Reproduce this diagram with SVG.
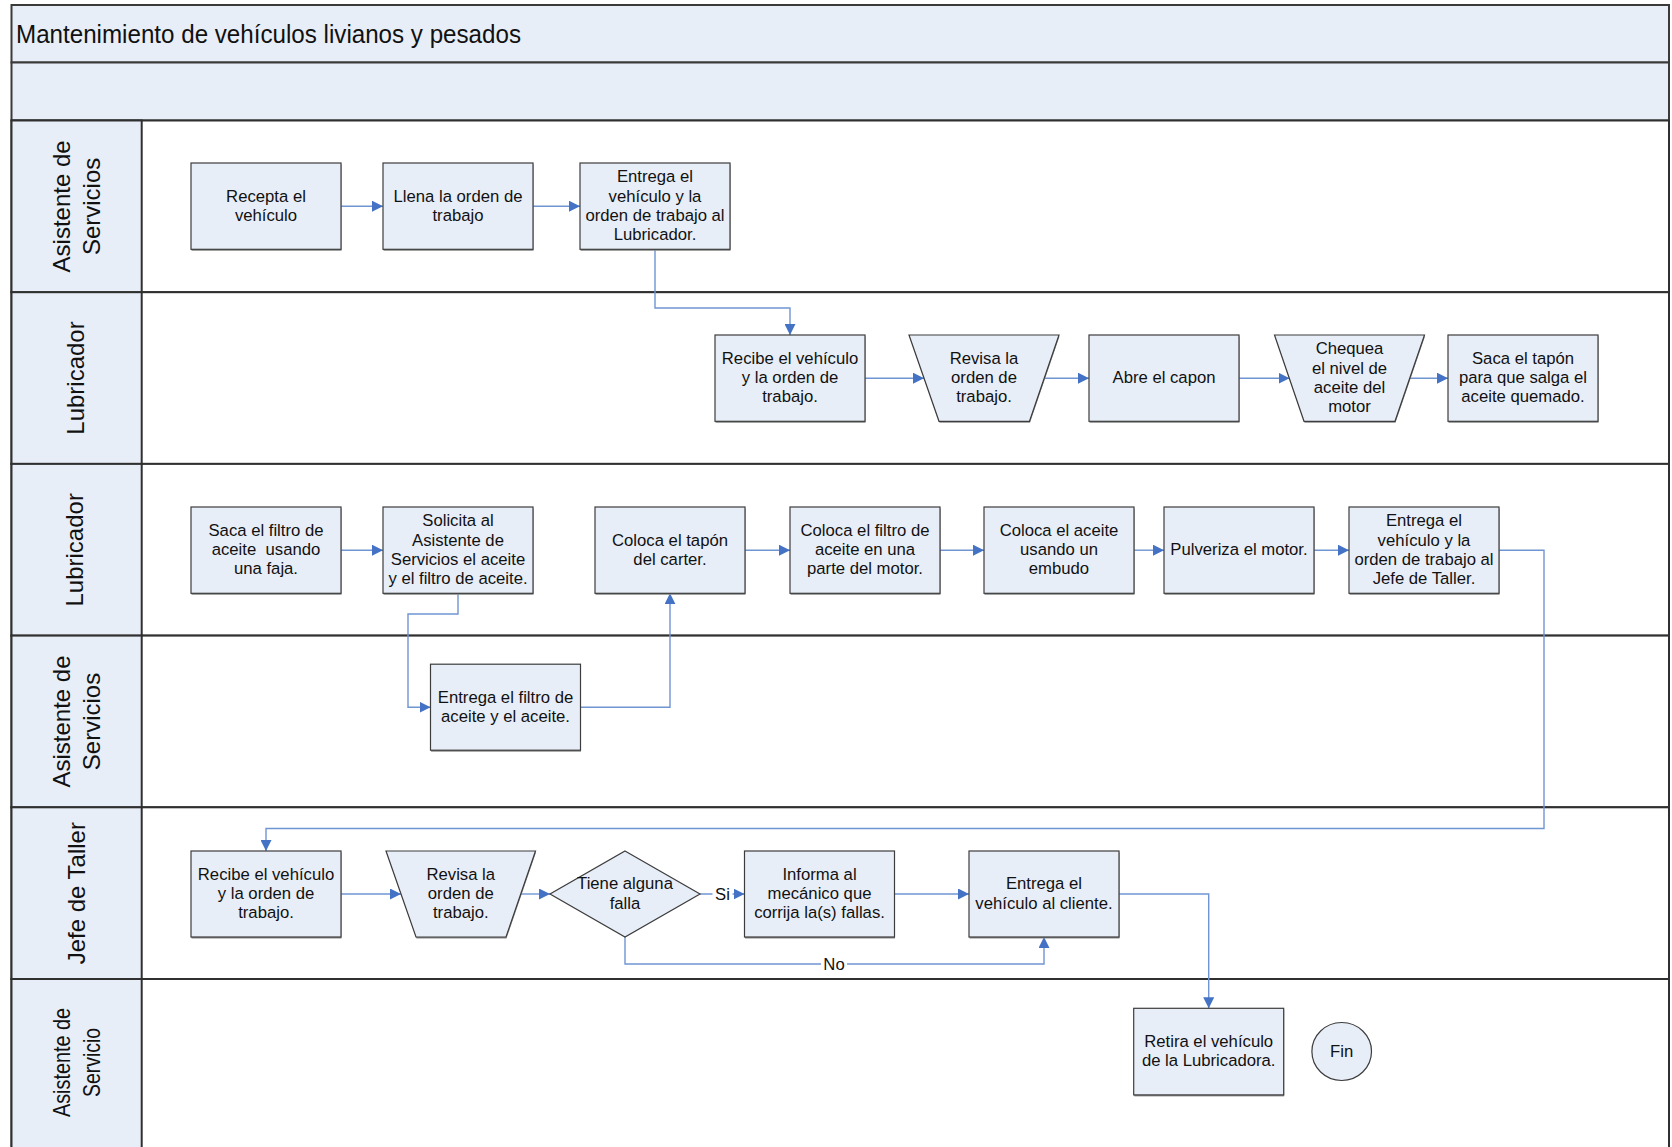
<svg xmlns="http://www.w3.org/2000/svg" width="1672" height="1147" viewBox="0 0 1672 1147">
  <defs>
    <style>
      .band { fill: #e8eef7; stroke: #3a3a3a; stroke-width: 2; }
      .lane { fill: #ffffff; stroke: #303030; stroke-width: 2; }
      .hdr { fill: #e8eef7; stroke: #303030; stroke-width: 2; }
      .shape { fill: #e8eef8; stroke: #3c3c3c; stroke-width: 1.2; }
      .shadow { fill: #8a8a8a; }
      .title { font-family: "Liberation Sans", Arial, sans-serif; font-size: 26.5px; fill: #111111; }
      .lanelbl { font-family: "Liberation Sans", Arial, sans-serif; font-size: 24px; fill: #111111; text-anchor: middle; }
      .t { font-family: "Liberation Sans", Arial, sans-serif; font-size: 16.7px; fill: #111111; text-anchor: middle; white-space: pre; }
      .conn { fill: none; stroke: #6f95d2; stroke-width: 1.4; }
      .lblbg { fill: #ffffff; }
    </style>
    <marker id="arrow" markerUnits="userSpaceOnUse" markerWidth="11" markerHeight="11" refX="11" refY="5.5" orient="auto">
      <path d="M0,0 L11,5.5 L0,11 Z" fill="#4472c4"/>
    </marker>
  </defs>

  <!-- pool frame -->
  <g id="pool">
    <rect class="band" x="11.5" y="5" width="1657.5" height="57.5"/>
    <rect class="band" x="11.5" y="62.5" width="1657.5" height="58"/>
    <text class="title" x="16" y="43" textLength="505" lengthAdjust="spacingAndGlyphs">Mantenimiento de vehículos livianos y pesados</text>
  </g>

  <!-- swimlanes -->
  <g id="lanes">
    <rect class="lane" x="11.5" y="120.5" width="1657.5" height="171.7"/>
    <rect class="lane" x="11.5" y="292.2" width="1657.5" height="171.7"/>
    <rect class="lane" x="11.5" y="463.9" width="1657.5" height="171.7"/>
    <rect class="lane" x="11.5" y="635.6" width="1657.5" height="171.7"/>
    <rect class="lane" x="11.5" y="807.3" width="1657.5" height="171.7"/>
    <rect class="lane" x="11.5" y="979" width="1657.5" height="175"/>
    <rect class="hdr" x="11.5" y="120.5" width="130.2" height="171.7"/>
    <rect class="hdr" x="11.5" y="292.2" width="130.2" height="171.7"/>
    <rect class="hdr" x="11.5" y="463.9" width="130.2" height="171.7"/>
    <rect class="hdr" x="11.5" y="635.6" width="130.2" height="171.7"/>
    <rect class="hdr" x="11.5" y="807.3" width="130.2" height="171.7"/>
    <rect class="hdr" x="11.5" y="979" width="130.2" height="175"/>
    <g transform="rotate(-90 76 206.4)">
      <text class="lanelbl" x="76" y="200.4">Asistente de</text>
      <text class="lanelbl" x="76" y="230.8">Servicios</text>
    </g>
    <g transform="rotate(-90 76 378)">
      <text class="lanelbl" x="76" y="385.5">Lubricador</text>
    </g>
    <g transform="rotate(-90 76 549.8)">
      <text class="lanelbl" x="76" y="557.3">Lubricador</text>
    </g>
    <g transform="rotate(-90 76 721.5)">
      <text class="lanelbl" x="76" y="715.5">Asistente de</text>
      <text class="lanelbl" x="76" y="745.9">Servicios</text>
    </g>
    <g transform="rotate(-90 76 893.2)">
      <text class="lanelbl" x="76" y="902.2">Jefe de Taller</text>
    </g>
    <g transform="rotate(-90 76 1062.5)">
      <text class="lanelbl" x="76" y="1056.5" textLength="109" lengthAdjust="spacingAndGlyphs">Asistente de</text>
      <text class="lanelbl" x="76" y="1086.9" textLength="69" lengthAdjust="spacingAndGlyphs">Servicio</text>
    </g>
  </g>

  <!-- connectors -->
  <g id="connectors">
    <path class="conn" marker-end="url(#arrow)" d="M341,206.2 H383"/>
    <path class="conn" marker-end="url(#arrow)" d="M533,206.2 H580"/>
    <path class="conn" marker-end="url(#arrow)" d="M655,249.5 V308 H790 V335"/>
    <path class="conn" marker-end="url(#arrow)" d="M865,378.2 H924"/>
    <path class="conn" marker-end="url(#arrow)" d="M1044,378.2 H1089"/>
    <path class="conn" marker-end="url(#arrow)" d="M1239,378.2 H1289.5"/>
    <path class="conn" marker-end="url(#arrow)" d="M1410,378.2 H1448"/>
    <path class="conn" marker-end="url(#arrow)" d="M341,550.2 H383"/>
    <path class="conn" marker-end="url(#arrow)" d="M458,593.3 V614 H408 V707.2 H430.5"/>
    <path class="conn" marker-end="url(#arrow)" d="M580.5,707.2 H670 V593.3"/>
    <path class="conn" marker-end="url(#arrow)" d="M745,550.2 H790"/>
    <path class="conn" marker-end="url(#arrow)" d="M940,550.2 H984"/>
    <path class="conn" marker-end="url(#arrow)" d="M1134,550.2 H1164"/>
    <path class="conn" marker-end="url(#arrow)" d="M1314,550.2 H1349"/>
    <path class="conn" marker-end="url(#arrow)" d="M1499,550.2 H1544 V828.5 H266 V851"/>
    <path class="conn" marker-end="url(#arrow)" d="M341,894 H401"/>
    <path class="conn" marker-end="url(#arrow)" d="M520.5,894 H550"/>
    <path class="conn" marker-end="url(#arrow)" d="M700,894 H744.5"/>
    <rect class="lblbg" x="712.5" y="884" width="20" height="20"/>
    <text class="t" x="722.5" y="900">Si</text>
    <path class="conn" marker-end="url(#arrow)" d="M894.5,894 H969"/>
    <path class="conn" marker-end="url(#arrow)" d="M625,937 V964 H1044 V937"/>
    <rect class="lblbg" x="821" y="954" width="26" height="20"/>
    <text class="t" x="834" y="970">No</text>
    <path class="conn" marker-end="url(#arrow)" d="M1119,894 H1208.7 V1008.3"/>
  </g>

  <!-- nodes: lane Asistente de Servicios -->
  <g id="n-recepta">
    <rect class="shadow" x="191.5" y="164.5" width="150" height="86.3"/>
    <rect class="shape" x="191" y="163" width="150" height="86.3"/>
    <text class="t" x="266" y="201.6">Recepta el</text>
    <text class="t" x="266" y="220.8">vehículo</text>
  </g>
  <g id="n-llena">
    <rect class="shadow" x="383.5" y="164.5" width="150" height="86.3"/>
    <rect class="shape" x="383" y="163" width="150" height="86.3"/>
    <text class="t" x="458" y="201.6">Llena la orden de</text>
    <text class="t" x="458" y="220.8">trabajo</text>
  </g>
  <g id="n-entrega-lubricador">
    <rect class="shadow" x="580.5" y="164.5" width="150" height="86.3"/>
    <rect class="shape" x="580" y="163" width="150" height="86.3"/>
    <text class="t" x="655" y="182.4">Entrega el</text>
    <text class="t" x="655" y="201.6">vehículo y la</text>
    <text class="t" x="655" y="220.8">orden de trabajo al</text>
    <text class="t" x="655" y="240">Lubricador.</text>
  </g>

  <!-- nodes: lane Lubricador (1) -->
  <g id="n-recibe-lub">
    <rect class="shadow" x="715.5" y="336.5" width="150" height="86.3"/>
    <rect class="shape" x="715" y="335" width="150" height="86.3"/>
    <text class="t" x="790" y="364">Recibe el vehículo</text>
    <text class="t" x="790" y="383.2">y la orden de</text>
    <text class="t" x="790" y="402.4">trabajo.</text>
  </g>
  <g id="n-revisa-lub">
    <polygon class="shadow" points="909.5,336.5 1059.5,336.5 1030,422.8 939.5,422.8"/>
    <polygon class="shape" points="909,335 1059,335 1029.5,421.3 939,421.3"/>
    <text class="t" x="984" y="364">Revisa la</text>
    <text class="t" x="984" y="383.2">orden de</text>
    <text class="t" x="984" y="402.4">trabajo.</text>
  </g>
  <g id="n-abre">
    <rect class="shadow" x="1089.5" y="336.5" width="150" height="86.3"/>
    <rect class="shape" x="1089" y="335" width="150" height="86.3"/>
    <text class="t" x="1164" y="383.2">Abre el capon</text>
  </g>
  <g id="n-chequea">
    <polygon class="shadow" points="1275,336.5 1425,336.5 1395.5,422.8 1304.5,422.8"/>
    <polygon class="shape" points="1274.5,335 1424.5,335 1395,421.3 1304,421.3"/>
    <text class="t" x="1349.5" y="354.4">Chequea</text>
    <text class="t" x="1349.5" y="373.6">el nivel de</text>
    <text class="t" x="1349.5" y="392.8">aceite del</text>
    <text class="t" x="1349.5" y="412">motor</text>
  </g>
  <g id="n-saca-tapon">
    <rect class="shadow" x="1448.5" y="336.5" width="150" height="86.3"/>
    <rect class="shape" x="1448" y="335" width="150" height="86.3"/>
    <text class="t" x="1523" y="364">Saca el tapón</text>
    <text class="t" x="1523" y="383.2">para que salga el</text>
    <text class="t" x="1523" y="402.4">aceite quemado.</text>
  </g>

  <!-- nodes: lane Lubricador (2) -->
  <g id="n-saca-filtro">
    <rect class="shadow" x="191.5" y="508.5" width="150" height="86.3"/>
    <rect class="shape" x="191" y="507" width="150" height="86.3"/>
    <text class="t" x="266" y="536">Saca el filtro de</text>
    <text class="t" x="266" y="555.2">aceite  usando</text>
    <text class="t" x="266" y="574.4">una faja.</text>
  </g>
  <g id="n-solicita">
    <rect class="shadow" x="383.5" y="508.5" width="150" height="86.3"/>
    <rect class="shape" x="383" y="507" width="150" height="86.3"/>
    <text class="t" x="458" y="526.4">Solicita al</text>
    <text class="t" x="458" y="545.6">Asistente de</text>
    <text class="t" x="458" y="564.8">Servicios el aceite</text>
    <text class="t" x="458" y="584">y el filtro de aceite.</text>
  </g>
  <g id="n-coloca-tapon">
    <rect class="shadow" x="595.5" y="508.5" width="150" height="86.3"/>
    <rect class="shape" x="595" y="507" width="150" height="86.3"/>
    <text class="t" x="670" y="545.6">Coloca el tapón</text>
    <text class="t" x="670" y="564.8">del carter.</text>
  </g>
  <g id="n-coloca-filtro">
    <rect class="shadow" x="790.5" y="508.5" width="150" height="86.3"/>
    <rect class="shape" x="790" y="507" width="150" height="86.3"/>
    <text class="t" x="865" y="536">Coloca el filtro de</text>
    <text class="t" x="865" y="555.2">aceite en una</text>
    <text class="t" x="865" y="574.4">parte del motor.</text>
  </g>
  <g id="n-coloca-aceite">
    <rect class="shadow" x="984.5" y="508.5" width="150" height="86.3"/>
    <rect class="shape" x="984" y="507" width="150" height="86.3"/>
    <text class="t" x="1059" y="536">Coloca el aceite</text>
    <text class="t" x="1059" y="555.2">usando un</text>
    <text class="t" x="1059" y="574.4">embudo</text>
  </g>
  <g id="n-pulveriza">
    <rect class="shadow" x="1164.5" y="508.5" width="150" height="86.3"/>
    <rect class="shape" x="1164" y="507" width="150" height="86.3"/>
    <text class="t" x="1239" y="555.2">Pulveriza el motor.</text>
  </g>
  <g id="n-entrega-jefe">
    <rect class="shadow" x="1349.5" y="508.5" width="150" height="86.3"/>
    <rect class="shape" x="1349" y="507" width="150" height="86.3"/>
    <text class="t" x="1424" y="526.4">Entrega el</text>
    <text class="t" x="1424" y="545.6">vehículo y la</text>
    <text class="t" x="1424" y="564.8">orden de trabajo al</text>
    <text class="t" x="1424" y="584">Jefe de Taller.</text>
  </g>

  <!-- nodes: lane Asistente de Servicios (2) -->
  <g id="n-entrega-filtro">
    <rect class="shadow" x="431" y="665.7" width="150" height="86"/>
    <rect class="shape" x="430.5" y="664.2" width="150" height="86"/>
    <text class="t" x="505.5" y="702.6">Entrega el filtro de</text>
    <text class="t" x="505.5" y="721.8">aceite y el aceite.</text>
  </g>

  <!-- nodes: lane Jefe de Taller -->
  <g id="n-recibe-jefe">
    <rect class="shadow" x="191.5" y="852.5" width="150" height="86"/>
    <rect class="shape" x="191" y="851" width="150" height="86"/>
    <text class="t" x="266" y="879.8">Recibe el vehículo</text>
    <text class="t" x="266" y="899">y la orden de</text>
    <text class="t" x="266" y="918.2">trabajo.</text>
  </g>
  <g id="n-revisa-jefe">
    <polygon class="shadow" points="386.5,852.5 536,852.5 506.5,938.5 416.5,938.5"/>
    <polygon class="shape" points="386,851 535.5,851 506,937 416,937"/>
    <text class="t" x="460.8" y="879.8">Revisa la</text>
    <text class="t" x="460.8" y="899">orden de</text>
    <text class="t" x="460.8" y="918.2">trabajo.</text>
  </g>
  <g id="n-falla">
    <polygon class="shape" points="625,851 700,894 625,937 550,894"/>
    <text class="t" x="625" y="889.4">Tiene alguna</text>
    <text class="t" x="625" y="908.6">falla</text>
  </g>
  <g id="n-informa">
    <rect class="shadow" x="745" y="852.5" width="150" height="86"/>
    <rect class="shape" x="744.5" y="851" width="150" height="86"/>
    <text class="t" x="819.5" y="879.8">Informa al</text>
    <text class="t" x="819.5" y="899">mecánico que</text>
    <text class="t" x="819.5" y="918.2">corrija la(s) fallas.</text>
  </g>
  <g id="n-entrega-cliente">
    <rect class="shadow" x="969.5" y="852.5" width="150" height="86"/>
    <rect class="shape" x="969" y="851" width="150" height="86"/>
    <text class="t" x="1044" y="889.4">Entrega el</text>
    <text class="t" x="1044" y="908.6">vehículo al cliente.</text>
  </g>

  <!-- nodes: lane Asistente de Servicio -->
  <g id="n-retira">
    <rect class="shadow" x="1134.2" y="1009.8" width="150" height="86.6"/>
    <rect class="shape" x="1133.7" y="1008.3" width="150" height="86.6"/>
    <text class="t" x="1208.7" y="1047">Retira el vehículo</text>
    <text class="t" x="1208.7" y="1066.2">de la Lubricadora.</text>
  </g>
  <g id="n-fin">
    <ellipse class="shape" cx="1341.7" cy="1051.5" rx="29.8" ry="29"/>
    <text class="t" x="1341.7" y="1057">Fin</text>
  </g>
</svg>
